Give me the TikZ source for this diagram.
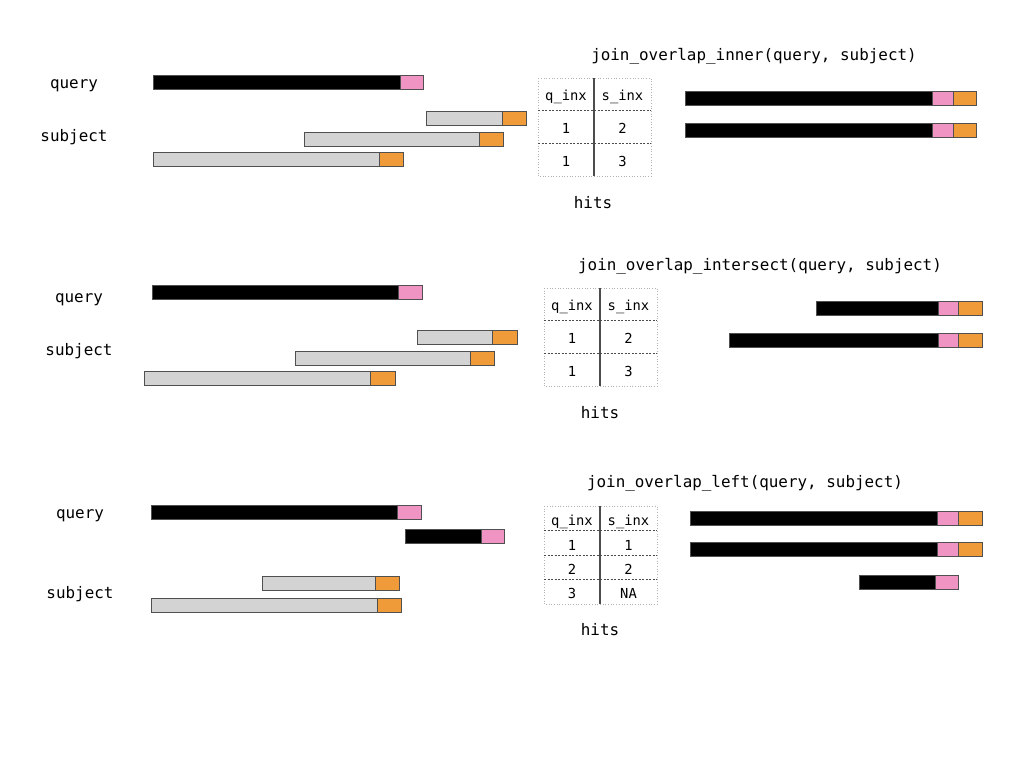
\documentclass[tikz,border=0pt]{standalone}
\usepackage{fontspec}
\setmonofont{DejaVu Sans Mono}
\definecolor{qpink}{RGB}{240,148,196}
\definecolor{sorange}{RGB}{240,155,58}
\definecolor{sgray}{RGB}{211,211,211}
\definecolor{edge}{RGB}{80,80,80}
\tikzset{
  barline/.style={draw=edge,line width=0.9pt},
  lbl/.style={font=\ttfamily\fontsize{15.9}{19}\selectfont,inner sep=0pt},
  tbl/.style={font=\ttfamily\fontsize{13.8}{16}\selectfont,inner sep=0pt},
  tblout/.style={draw=black!30,dotted,line width=0.7pt},
  tblrow/.style={draw=black!70,dashed,dash pattern=on 2pt off 1.5pt,line width=0.6pt},
  tblcol/.style={draw=black!70,line width=1.3pt},
}
\newcommand\qbar[4]{%
  \draw[barline,fill=black] (#1,#4) rectangle (#2,#4+14);
  \draw[barline,fill=qpink] (#2,#4) rectangle (#3,#4+14);}
\newcommand\sbar[4]{%
  \draw[barline,fill=sgray] (#1,#4) rectangle (#2,#4+14);
  \draw[barline,fill=sorange] (#2,#4) rectangle (#3,#4+14);}
\newcommand\rbar[5]{%
  \draw[barline,fill=black] (#1,#5) rectangle (#2,#5+14);
  \draw[barline,fill=qpink] (#2,#5) rectangle (#3,#5+14);
  \draw[barline,fill=sorange] (#3,#5) rectangle (#4,#5+14);}
\begin{document}
\begin{tikzpicture}[x=1pt,y=-1pt]
\useasboundingbox[fill=white] (0,0) rectangle (1024,768);

% ---------- panel 1: inner ----------
\node[lbl] (q1) at (74,86) {query};
\node[lbl] (s1) at (74,137) {subject};
\qbar{153}{400}{423}{75}
\sbar{426}{502}{526}{111}
\sbar{304}{479}{503}{132}
\sbar{153}{379}{403}{152}
\draw[tblout] (538,78) rectangle (651,176);
\draw[tblrow] (538,110) -- (651,110);
\draw[tblrow] (538,143) -- (651,143);
\draw[tblcol] (594,78) -- (594,176);
\node[tbl] (t1h1) at (566,96.5) {q\_inx};
\node[tbl] (t1h2) at (622.5,96.5) {s\_inx};
\node[tbl] (t1a1) at (566,128) {1};
\node[tbl] (t1a2) at (622.5,128) {2};
\node[tbl] (t1b1) at (566,161) {1};
\node[tbl] (t1b2) at (622.5,161) {3};
\node[lbl] (h1) at (593,202.5) {hits};
\node[lbl] (ti1) at (754,56) {join\_overlap\_inner(query, subject)};
\rbar{685}{932}{953}{976}{91}
\rbar{685}{932}{953}{976}{123}

% ---------- panel 2: intersect ----------
\node[lbl] (q2) at (79,300) {query};
\node[lbl] (s2) at (79,351) {subject};
\qbar{152}{398}{422}{285}
\sbar{417}{492}{517}{330}
\sbar{295}{470}{494}{351}
\sbar{144}{370}{395}{371}
\draw[tblout] (544,288) rectangle (657,386);
\draw[tblrow] (544,320) -- (657,320);
\draw[tblrow] (544,353) -- (657,353);
\draw[tblcol] (600,288) -- (600,386);
\node[tbl] (t2h1) at (572,306.5) {q\_inx};
\node[tbl] (t2h2) at (628.5,306.5) {s\_inx};
\node[tbl] (t2a1) at (572,338) {1};
\node[tbl] (t2a2) at (628.5,338) {2};
\node[tbl] (t2b1) at (572,371) {1};
\node[tbl] (t2b2) at (628.5,371) {3};
\node[lbl] (h2) at (600,412.5) {hits};
\node[lbl] (ti2) at (760,266) {join\_overlap\_intersect(query, subject)};
\rbar{816}{938}{958}{982}{301}
\rbar{729}{938}{958}{982}{333}

% ---------- panel 3: left ----------
\node[lbl] (q3) at (80,516) {query};
\node[lbl] (s3) at (80,594) {subject};
\qbar{151}{397}{421}{505}
\qbar{405}{481}{504}{529}
\sbar{262}{375}{399}{576}
\sbar{151}{377}{401}{598}
\draw[tblout] (544,506) rectangle (657,604);
\draw[tblrow] (544,530) -- (657,530);
\draw[tblrow] (544,555) -- (657,555);
\draw[tblrow] (544,579) -- (657,579);
\draw[tblcol] (600,506) -- (600,604);
\node[tbl] (t3h1) at (572,522) {q\_inx};
\node[tbl] (t3h2) at (628.5,522) {s\_inx};
\node[tbl] (t3a1) at (572,545) {1};
\node[tbl] (t3a2) at (628.5,545) {1};
\node[tbl] (t3b1) at (572,569) {2};
\node[tbl] (t3b2) at (628.5,569) {2};
\node[tbl] (t3c1) at (572,593) {3};
\node[tbl] (t3c2) at (628.5,593) {NA};
\node[lbl] (h3) at (600,629.5) {hits};
\node[lbl] (ti3) at (745,483) {join\_overlap\_left(query, subject)};
\rbar{690}{937}{958}{982}{511}
\rbar{690}{937}{958}{982}{542}
\qbar{859}{935}{958}{575}
\end{tikzpicture}
\end{document}
